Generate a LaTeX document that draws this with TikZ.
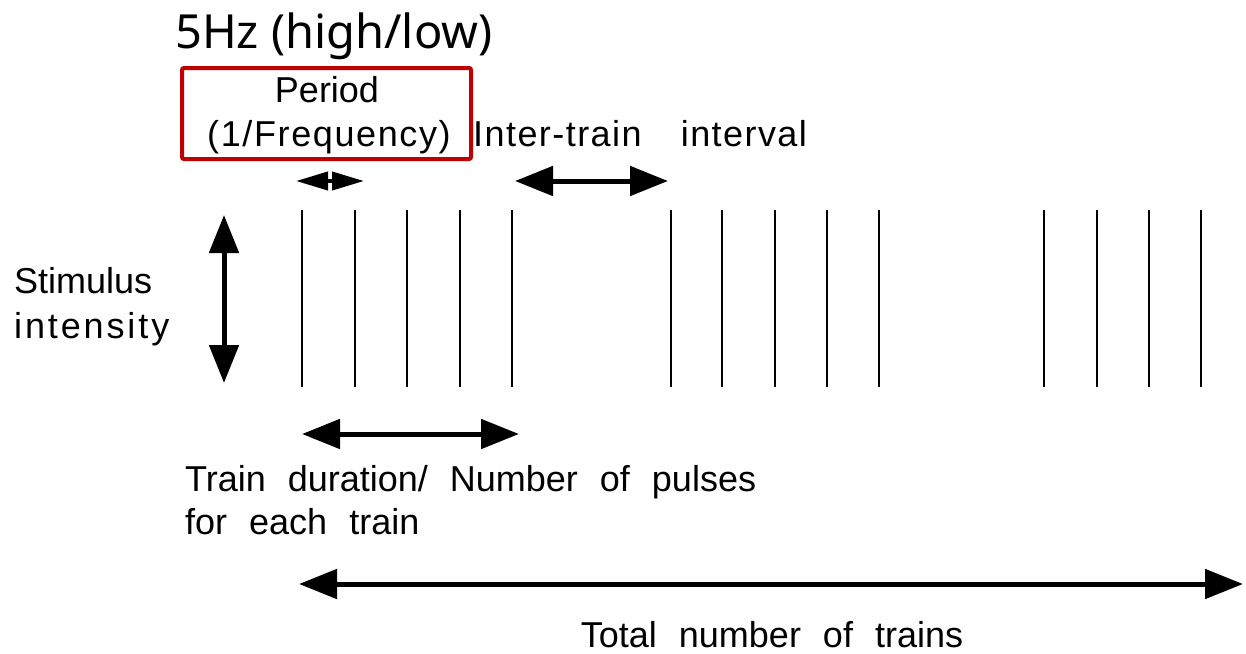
\documentclass[tikz,border=0pt]{standalone}
\usepackage{fontspec}
\setmainfont{Liberation Sans}
\newfontfamily\labelfont[WordSpace=2.2]{Liberation Sans}
\newfontfamily\titlefont{Noto Sans}
\usetikzlibrary{arrows.meta}
\definecolor{boxred}{RGB}{192,0,0}
\tikzset{
  lbl/.style={inner sep=0pt, font=\labelfont\fontsize{36}{43}\selectfont, text=black},
  pulse/.style={line width=2pt, black},
  bigarrow/.style={line width=5pt, {Triangle[length=38pt,width=29pt]}-{Triangle[length=38pt,width=29pt]}},
  smallarrow/.style={line width=4pt, {Triangle[length=32pt,width=18pt]}-{Triangle[length=32pt,width=18pt]}},
  redbox/.style={draw=boxred, line width=4pt, rounded corners=2pt, minimum width=289pt, minimum height=91pt, inner sep=0pt}
}
\begin{document}
\begin{tikzpicture}[x=1pt,y=-1pt]
\useasboundingbox (0,0) rectangle (1246,653);
% title
\node[inner sep=0pt, anchor=base west, font=\titlefont\fontsize{47}{56}\selectfont] (title) at (175,48) {5Hz (high/low)};
% red box
\node[redbox] (box) at (326.5,113.5) {};
\node[lbl, anchor=base] (period) at (327,102) {Period};
\node[lbl, anchor=base] (freq) at (329,146) {\addfontfeature{LetterSpace=4.5}(1/Frequency)};
\node[lbl, anchor=base west] (inter) at (473,146) {\addfontfeature{LetterSpace=4}Inter-train\hspace{14pt} interval};
% stimulus label
\node[lbl, anchor=base west] (stim1) at (14,293) {Stimulus};
\node[lbl, anchor=base west] (stim2) at (14,338) {\addfontfeature{LetterSpace=8}intensity};
% train duration label
\node[lbl, anchor=base west] (dur1) at (185,491) {Train duration/ Number of pulses};
\node[lbl, anchor=base west] (dur2) at (185,534) {for each train};
% total label
\node[lbl, anchor=base] (total) at (772,647) {Total number of trains};
% pulses
\foreach \i/\x in {1/302,2/355,3/407,4/460,5/512,6/671,7/722,8/775,9/827,10/879,11/1044,12/1097,13/1149,14/1201}{
  \coordinate (p\i t) at (\x,210);
  \coordinate (p\i b) at (\x,387);
  \draw[pulse] (p\i t) -- (p\i b);
}
% arrows
\coordinate (sa1) at (224,215);
\coordinate (sa2) at (224,383);
\draw[bigarrow] (sa1) -- (sa2);
\coordinate (pa1) at (296,181);
\coordinate (pa2) at (364,181);
\draw[smallarrow] (pa1) -- (pa2);
\coordinate (ia1) at (515,181);
\coordinate (ia2) at (668,181);
\draw[bigarrow] (ia1) -- (ia2);
\coordinate (da1) at (302,434);
\coordinate (da2) at (519,434);
\draw[bigarrow] (da1) -- (da2);
\coordinate (ta1) at (299,584);
\coordinate (ta2) at (1243,584);
\draw[bigarrow] (ta1) -- (ta2);
\end{tikzpicture}
\end{document}
